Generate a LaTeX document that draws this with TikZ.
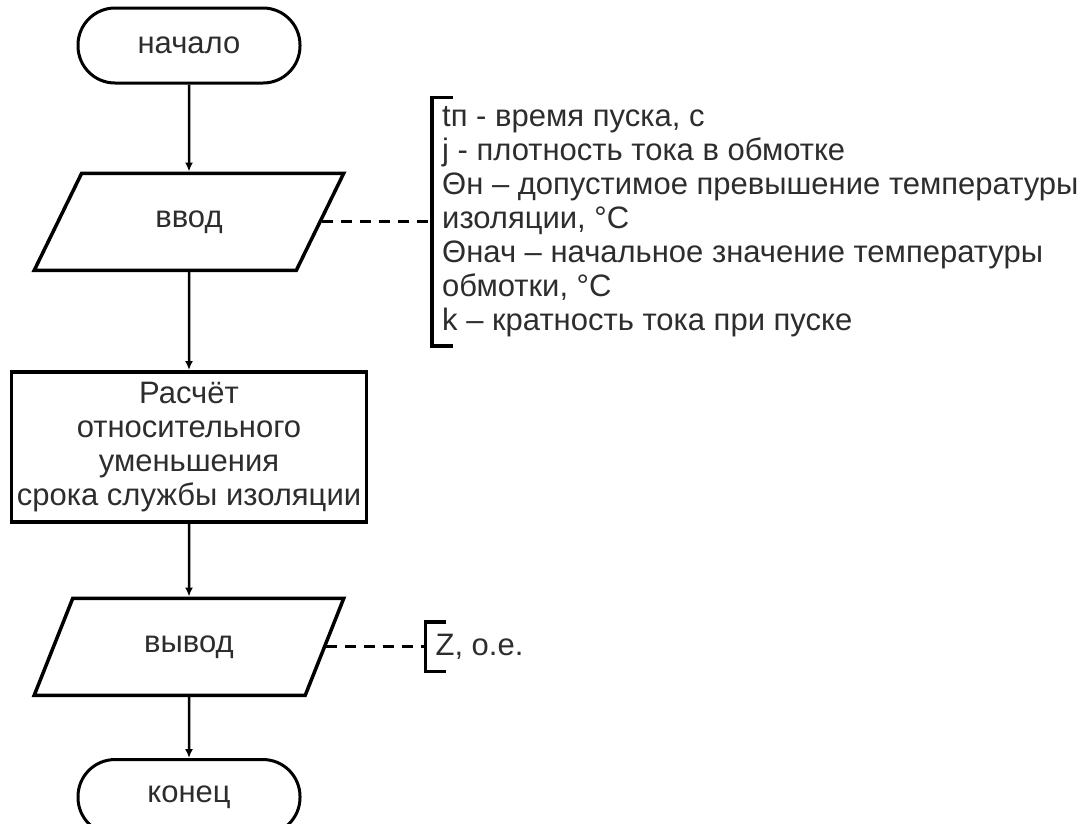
\documentclass[tikz,border=0pt]{standalone}
\usepackage{fontspec}
\setmainfont{Liberation Sans}
\usepackage{xcolor}
\usetikzlibrary{arrows.meta,positioning,shapes.geometric}
\definecolor{flowline}{RGB}{0,0,0}
\definecolor{flowtext}{RGB}{45,45,45}
\newcommand{\flowfont}{\fontsize{31pt}{34pt}\selectfont}
\tikzset{
  terminal/.style={
    draw=flowline,
    line width=3pt,
    rounded corners=37pt,
    minimum width=222pt,
    minimum height=75pt,
    inner sep=0pt,
    text=flowtext,
    font=\flowfont
  },
  iobox/.style={
    draw=flowline,
    trapezium,
    trapezium left angle=57,
    trapezium right angle=123,
    trapezium stretches=true,
    line width=3.5pt,
    minimum width=310pt,
    minimum height=97pt,
    inner sep=0pt,
    text=flowtext,
    font=\flowfont
  },
  procbox/.style={
    draw=flowline,
    line width=3.5pt,
    minimum width=355pt,
    minimum height=150pt,
    align=center,
    inner sep=0pt,
    text=flowtext,
    font=\flowfont
  },
  note/.style={
    align=left,
    inner xsep=10pt,
    inner ysep=0pt,
    text=flowtext,
    font=\flowfont
  },
  arrow/.style={-{Latex[length=9pt,width=8pt]}, line width=2.5pt},
  dashline/.style={line width=3pt, dash pattern=on 11pt off 8pt},
  bracket/.style={line width=3.5pt}
}

\begin{document}
\begin{tikzpicture}[x=1pt,y=1pt]
  \useasboundingbox (0,0) rectangle (1083,-823);

  \node[terminal] (start) at (189,-45.5) {начало};
  \node[iobox, below=87pt of start] (in) {ввод};
  \node[procbox, below=98pt of in] (calc) {Расчёт\\относительного\\уменьшения\\срока службы изоляции};
  \node[iobox, below=73pt of calc] (out) {вывод};
  \node[terminal, below=61pt of out] (stop) {конец};

  \node[note, minimum height=248pt, right=110pt of in] (notein)
    {tп - время пуска, с\\
     j - плотность тока в обмотке\\
     Θн – допустимое превышение температуры\\
     изоляции, °C\\
     Θнач – начальное значение температуры\\
     обмотки, °C\\
     k – кратность тока при пуске};
  \node[note, minimum height=49pt, right=99pt of out] (noteout) {Z, о.е.};

  \draw[arrow] (start) -- (in);
  \draw[arrow] (in) -- (calc);
  \draw[arrow] (calc) -- (out);
  \draw[arrow] (out) -- (stop);

  \draw[dashline] (in.east) -- (notein.west);
  \draw[dashline] (out.east) -- (noteout.west);
  \draw[bracket] ([xshift=21pt]notein.north west) -- (notein.north west)
    -- (notein.south west) -- ([xshift=21pt]notein.south west);
  \draw[bracket] ([xshift=21pt]noteout.north west) -- (noteout.north west)
    -- (noteout.south west) -- ([xshift=21pt]noteout.south west);
\end{tikzpicture}
\end{document}
